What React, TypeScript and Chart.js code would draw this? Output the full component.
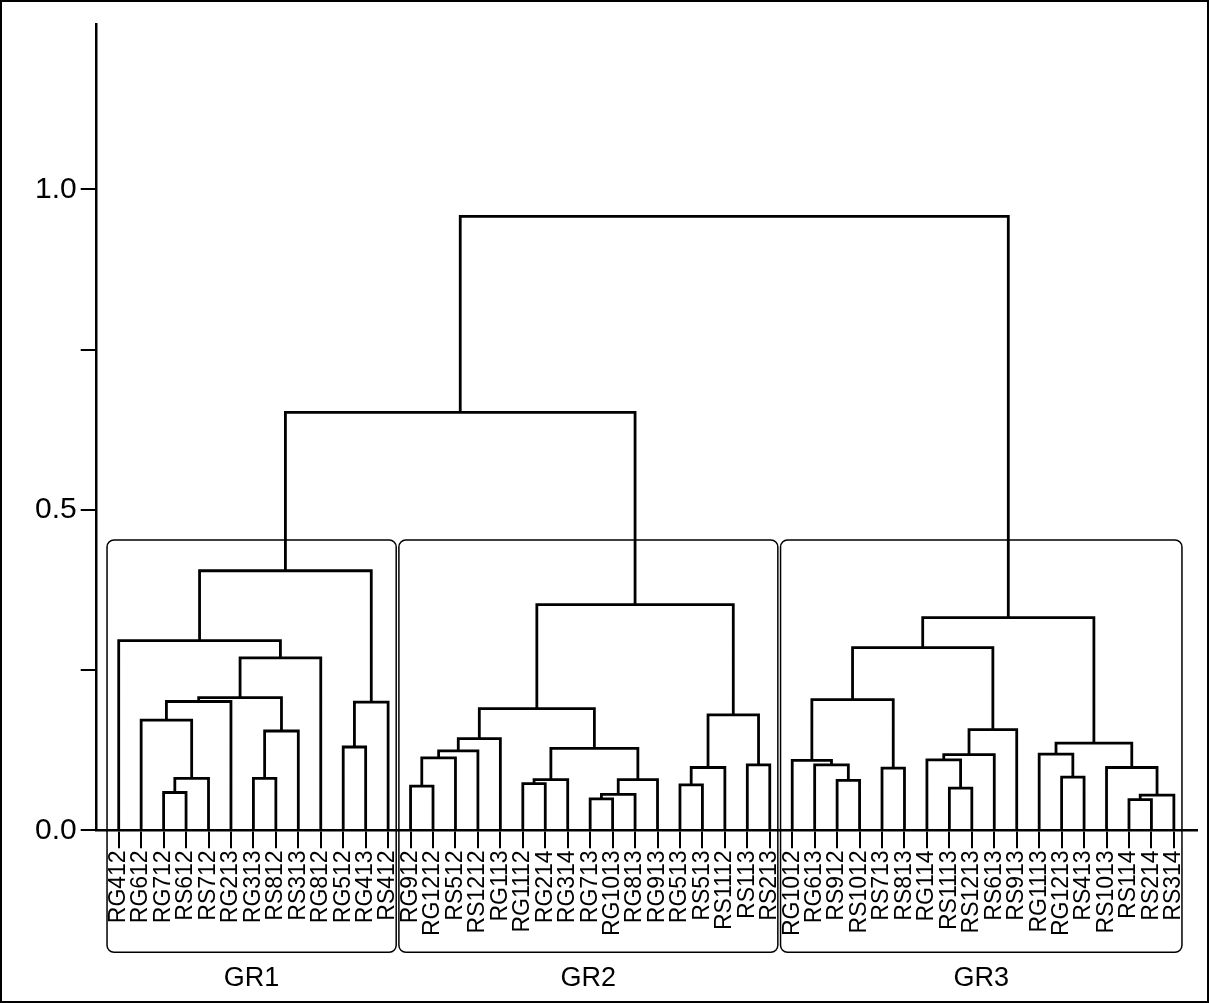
import { useEffect, useRef } from "react";
import { Chart, registerables, type Plugin } from "chart.js";

Chart.register(...registerables);

const leafLabels = [
  "RG412","RG612","RG712","RS612","RS712","RG213","RG313","RS812","RS313","RG812","RG512","RG413","RS412",
  "RG912","RG1212","RS512","RS1212","RG113","RG1112","RG214","RG314","RG713","RG1013","RG813","RG913","RG513","RS513","RS1112","RS113","RS213",
  "RG1012","RG613","RS912","RS1012","RS713","RS813","RG114","RS1113","RS1213","RS613","RS913","RG1113","RG1213","RS413","RS1013","RS114","RS214","RS314",
];

// [left id, right id, height]; ids >= 48 point at earlier merges (48 + row)
const merges: [number, number, number][] = [
  [2, 3, 0.059], [48, 4, 0.081], [1, 49, 0.172], [50, 5, 0.201], [6, 7, 0.081], [52, 8, 0.155],
  [51, 53, 0.207], [54, 9, 0.269], [0, 55, 0.296], [10, 11, 0.13], [57, 12, 0.2], [56, 58, 0.405],
  [13, 14, 0.069], [60, 15, 0.113], [61, 16, 0.124], [62, 17, 0.143], [18, 19, 0.073], [64, 20, 0.079],
  [21, 22, 0.049], [66, 23, 0.056], [67, 24, 0.079], [65, 68, 0.128], [63, 69, 0.19], [25, 26, 0.071],
  [71, 27, 0.098], [28, 29, 0.102], [72, 73, 0.18], [70, 74, 0.352],
  [32, 33, 0.078], [31, 76, 0.102], [30, 77, 0.109], [34, 35, 0.097], [78, 79, 0.204], [37, 38, 0.066],
  [36, 81, 0.11], [82, 39, 0.118], [83, 40, 0.157], [80, 84, 0.285], [42, 43, 0.083], [41, 86, 0.119],
  [45, 46, 0.048], [88, 47, 0.055], [44, 89, 0.098], [87, 90, 0.136], [85, 91, 0.332],
  [59, 75, 0.652], [93, 92, 0.958],
];

const groups: [string, number, number][] = [["GR1", 0, 12], ["GR2", 13, 29], ["GR3", 30, 47]];
const yTicks = [0, 0.25, 0.5, 0.75, 1.0];
const FONT = "'Liberation Sans', Arial, sans-serif";

function buildSegments() {
  const xs: number[] = leafLabels.map((_, i) => i);
  const hs: number[] = leafLabels.map(() => 0);
  const pts: { x: number; y: number }[] = [];
  merges.forEach(([a, b, h]) => {
    pts.push({ x: xs[a], y: hs[a] }, { x: xs[a], y: h }, { x: xs[b], y: h }, { x: xs[b], y: hs[b] });
    pts.push({ x: NaN, y: NaN });
    xs.push((xs[a] + xs[b]) / 2);
    hs.push(h);
  });
  return pts;
}

const groupBoxes: Plugin<"scatter"> = {
  id: "groupBoxes",
  afterDatasetsDraw(chart) {
    const { ctx, scales } = chart;
    const x = scales.x, y = scales.y;
    const top = y.getPixelForValue(0.453);
    const bottom = y.getPixelForValue(0) + 122;
    ctx.save();
    ctx.strokeStyle = "#000";
    ctx.lineWidth = 1.5;
    ctx.fillStyle = "#000";
    ctx.font = `27px ${FONT}`;
    ctx.textAlign = "center";
    ctx.textBaseline = "middle";
    groups.forEach(([name, a, b]) => {
      const l = x.getPixelForValue(a - 0.52);
      const r = x.getPixelForValue(b + 0.36);
      ctx.beginPath();
      ctx.roundRect(l, top, r - l, bottom - top, 7);
      ctx.stroke();
      ctx.fillText(name, (l + r) / 2, bottom + 26);
    });
    ctx.restore();
  },
};

export default function App() {
  const canvasRef = useRef<HTMLCanvasElement>(null);

  useEffect(() => {
    if (!canvasRef.current) return;
    const chart = new Chart(canvasRef.current, {
      type: "scatter",
      data: {
        datasets: [
          {
            data: buildSegments(),
            showLine: true,
            spanGaps: false,
            borderColor: "#000",
            borderWidth: 2.8,
            pointRadius: 0,
          },
        ],
      },
      options: {
        animation: false,
        responsive: true,
        maintainAspectRatio: false,
        layout: { padding: { top: 18, right: 10, bottom: 63, left: 29 } },
        plugins: { legend: { display: false }, tooltip: { enabled: false } },
        scales: {
          x: {
            type: "linear",
            min: -0.98,
            max: 48.03,
            afterBuildTicks: (axis) => {
              axis.ticks = leafLabels.map((_, i) => ({ value: i }));
            },
            grid: { drawOnChartArea: false, tickLength: 18, color: "#000", lineWidth: 2 },
            border: { color: "#000", width: 2.5 },
            ticks: {
              autoSkip: false,
              minRotation: 90,
              maxRotation: 90,
              padding: 2,
              color: "#000",
              font: { family: FONT, size: 23 },
              callback: (v) => leafLabels[Number(v)] ?? "",
            },
          },
          y: {
            min: 0,
            max: 1.258,
            afterBuildTicks: (axis) => {
              axis.ticks = yTicks.map((v) => ({ value: v }));
            },
            grid: { drawOnChartArea: false, tickLength: 16, color: "#000", lineWidth: 2 },
            border: { color: "#000", width: 2.5 },
            ticks: {
              color: "#000",
              padding: 4,
              font: { family: FONT, size: 30 },
              callback: (v) => (Number(v) * 2) % 1 === 0 ? Number(v).toFixed(1) : "",
            },
          },
        },
      },
      plugins: [groupBoxes],
    });
    return () => chart.destroy();
  }, []);

  return (
    <div
      style={{
        position: "fixed", left: 0, top: 0, width: 1209, height: 1003,
        border: "2px solid #000", boxSizing: "border-box", background: "#fff",
      }}
    >
      <canvas ref={canvasRef} role="img" aria-label="Dendrogram of samples in three groups" />
    </div>
  );
}
